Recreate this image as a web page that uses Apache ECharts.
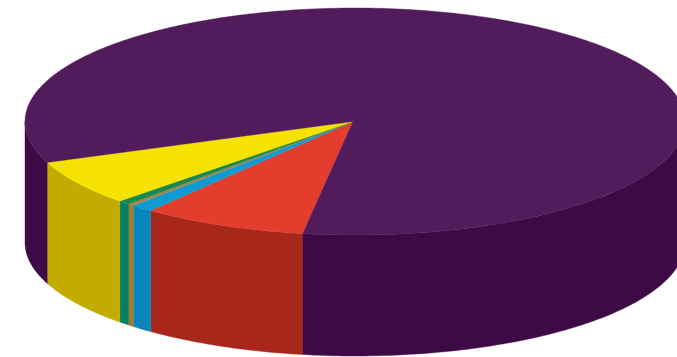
<!DOCTYPE html>
<html>
<head>
<meta charset="utf-8">
<style>
  html, body { margin: 0; padding: 0; background: #ffffff; }
  #chart { width: 677px; height: 357px; }
</style>
<script src="https://cdn.jsdelivr.net/npm/echarts@6/dist/echarts.min.js"></script>
</head>
<body>
<div id="chart"></div>
<script>
// Slice shares in percent, going clockwise from the lower edge of the red slice
const sliceNames = ['Red', 'Blue', 'Brown', 'Green', 'Yellow', 'Purple'];
const sliceValues = [8.1, 1.1, 0.3, 0.6, 6.5, 83.4];
const topColors = ['#e43c2d', '#0f9ad4', '#a5864a', '#17894f', '#f6e200', '#521b5b'];
const sideColors = ['#a7281b', '#0a85bc', '#a67c2c', '#07805f', '#c3ac00', '#3e0a46'];

// Disc geometry: tilted circle projected as an ellipse, extruded downward
const disc = { cx: 355, cy: 121.5, rx: 330, ry: 113.5, depth: 121, startDeg: 99.1 };
const total = sliceValues.reduce((a, b) => a + b, 0);

function rimPoint(deg, drop) {
  const t = deg * Math.PI / 180;
  return [disc.cx + disc.rx * Math.cos(t), disc.cy + drop + disc.ry * Math.sin(t)];
}

function arc(from, to, drop) {
  const n = Math.max(2, Math.ceil(Math.abs(to - from)));
  const pts = [];
  for (let i = 0; i <= n; i++) pts.push(rimPoint(from + (to - from) * i / n, drop));
  return pts;
}

// Only the part of the rim facing the viewer (0..180 degrees, modulo a turn) has a visible wall
function wallRanges(from, to) {
  const out = [];
  for (const base of [0, 360]) {
    const a = Math.max(from, base), b = Math.min(to, base + 180);
    if (b > a) out.push([a, b]);
  }
  return out;
}

function renderSlice(params, api) {
  const i = params.dataIndex;
  let before = 0;
  for (let k = 0; k < i; k++) before += sliceValues[k];
  const from = disc.startDeg + before / total * 360;
  const to = from + api.value(0) / total * 360;
  const children = [];

  wallRanges(from, to).forEach(([a, b]) => {
    const points = arc(a, b, 0).concat(arc(b, a, disc.depth));
    children.push({
      type: 'polygon',
      shape: { points },
      style: { fill: sideColors[i], stroke: sideColors[i], lineWidth: 0.4 }
    });
  });

  children.push({
    type: 'polygon',
    shape: { points: [[disc.cx - 2, disc.cy]].concat(arc(from, to, 0)) },
    z2: 10,
    style: { fill: topColors[i], stroke: topColors[i], lineWidth: 0.4 }
  });

  return { type: 'group', children };
}

const chart = echarts.init(document.getElementById('chart'), null, { renderer: 'canvas' });
chart.setOption({
  animation: false,
  backgroundColor: '#ffffff',
  series: [{
    type: 'custom',
    coordinateSystem: 'none',
    renderItem: renderSlice,
    clip: false,
    data: sliceValues.map((v, i) => ({ name: sliceNames[i], value: [v] }))
  }]
});
</script>
</body>
</html>
